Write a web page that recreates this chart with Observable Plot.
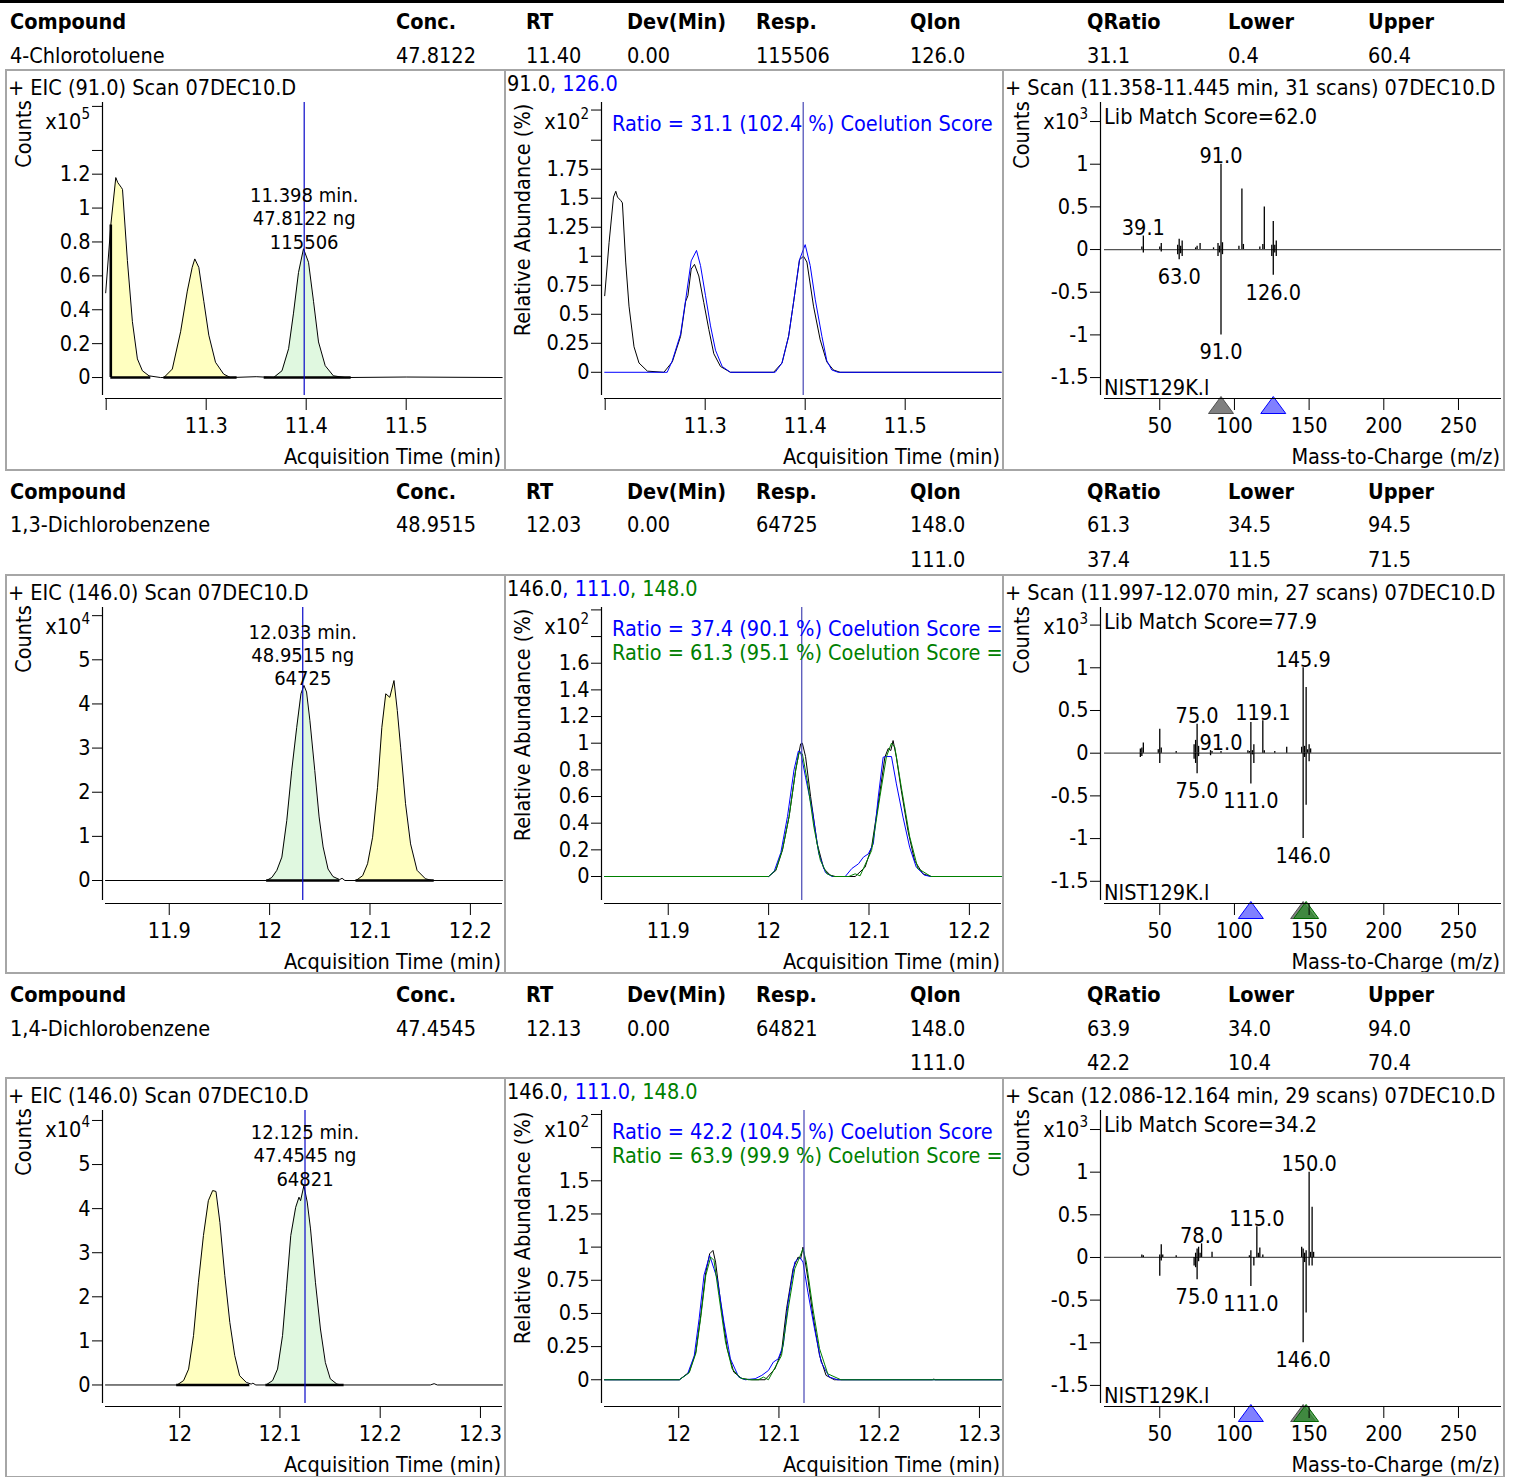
<!DOCTYPE html>
<html>
<head>
<meta charset="utf-8">
<script src="https://cdn.jsdelivr.net/npm/d3@7"></script>
<script src="https://cdn.jsdelivr.net/npm/@observablehq/plot@0.6"></script>
<style>
  html,body{margin:0;padding:0;background:#fff;}
  #page{position:relative;width:1514px;height:1477px;overflow:hidden;background:#fff;
    font-family:"DejaVu Sans Condensed","DejaVu Sans",sans-serif;font-stretch:condensed;font-size:21.5px;color:#000;}
  .t{position:absolute;white-space:nowrap;line-height:24px;height:24px;}
  .hb{font-weight:bold;}
  .panel{position:absolute;overflow:hidden;}
  .panel svg{position:absolute;left:0;top:0;}
  .rot{position:absolute;white-space:nowrap;line-height:24px;transform:translate(-50%,-50%) rotate(-90deg);}
  .ln{position:absolute;background:#a6a6a6;}
</style>
</head>
<body>
<div id="page"></div>
<script>
// ================= DATA =================
const headerCols = ["Compound","Conc.","RT","Dev(Min)","Resp.","QIon","QRatio","Lower","Upper"];
const compounds = ["4-Chlorotoluene","1,3-Dichlorobenzene","1,4-Dichlorobenzene"];
const conc = ["47.8122","48.9515","47.4545"];
const rtTable = ["11.40","12.03","12.13"];
const devMin = ["0.00","0.00","0.00"];
const resp = ["115506","64725","64821"];
const qIon = [["126.0"],["148.0","111.0"],["148.0","111.0"]];
const qRatio = [["31.1"],["61.3","37.4"],["63.9","42.2"]];
const qLower = [["0.4"],["34.5","11.5"],["34.0","10.4"]];
const qUpper = [["60.4"],["94.5","71.5"],["94.0","70.4"]];

const rtFull = ["11.398","12.033","12.125"];
const eicTitles = ["+ EIC (91.0) Scan 07DEC10.D","+ EIC (146.0) Scan 07DEC10.D","+ EIC (146.0) Scan 07DEC10.D"];
const eicExponent = ["5","4","4"];
const ionLists = [["91.0","126.0"],["146.0","111.0","148.0"],["146.0","111.0","148.0"]];
const ratioTexts = [
  ["Ratio = 31.1 (102.4 %) Coelution Score"],
  ["Ratio = 37.4 (90.1 %) Coelution Score =","Ratio = 61.3 (95.1 %) Coelution Score ="],
  ["Ratio = 42.2 (104.5 %) Coelution Score","Ratio = 63.9 (99.9 %) Coelution Score ="]
];
const specTitles = ["+ Scan (11.358-11.445 min, 31 scans) 07DEC10.D","+ Scan (11.997-12.070 min, 27 scans) 07DEC10.D","+ Scan (12.086-12.164 min, 29 scans) 07DEC10.D"];
const libScores = ["62.0","77.9","34.2"];
const libName = "NIST129K.l";

// x axis domains / ticks (minutes)
const timeDomains = [[11.1993, 11.5963],[11.8365, 12.232],[11.926, 12.322]];
const timeTicks = [[11.2, 11.3, 11.4, 11.5],[11.9, 12, 12.1, 12.2],[12, 12.1, 12.2, 12.3]];
const mzDomain = [13, 278.8];
const mzTicks = [50, 100, 150, 200, 250];

// y axis domains / ticks
const eicDomains = [[-0.106, 1.623],[-0.453, 6.185],[-0.42, 6.226]];
const eicTicks = [[0,0.2,0.4,0.6,0.8,1,1.2],[0,1,2,3,4,5],[0,1,2,3,4,5]];
const eicMinor = [[1.34,1.6],[6],[6]];
const relDomains = [[-0.2, 2.325],[-0.18, 2.018],[-0.179, 2.03]];
const relTicks = [[0,0.25,0.5,0.75,1,1.25,1.5,1.75],[0,0.2,0.4,0.6,0.8,1,1.2,1.4,1.6],[0,0.25,0.5,0.75,1,1.25,1.5]];
const relMinor = [[2.0,2.26],[1.8,2.0],[1.75,2.0]];
const specDomains = [[-1.71, 1.723],[-1.725, 1.706],[-1.712, 1.723]];
const specTicks = [-1.5,-1,-0.5,0,0.5,1];
const specMinor = [1.5];

// EIC traces [time, counts x10^n]
const eic1 = [[11.1995,0.50],[11.2046,0.90],[11.2096,1.18],[11.2116,1.15],[11.2153,1.12],[11.2163,1.11],[11.2212,0.69],[11.2262,0.33],[11.2312,0.11],[11.2362,0.04],[11.2428,0.01],[11.2544,0.00],
  [11.2577,0.00],[11.2661,0.05],[11.2744,0.27],[11.2811,0.51],[11.2860,0.65],[11.2886,0.70],[11.2926,0.65],[11.2976,0.45],[11.3026,0.25],[11.3093,0.09],[11.3175,0.02],[11.3242,0.00],
  [11.3500,0.005],[11.3674,0.00],[11.3758,0.04],[11.3824,0.17],[11.3873,0.38],[11.3923,0.62],[11.3973,0.76],[11.4023,0.68],[11.4073,0.45],[11.4123,0.21],[11.4190,0.07],[11.4272,0.01],[11.4389,0.00],[11.5000,0.003],[11.5960,0.00]];
const eic2 = [[11.8365,0.00],[11.9970,0.00],[12.0023,0.07],[12.0072,0.23],[12.0122,0.53],[12.0171,1.36],[12.0220,2.49],[12.0270,3.47],[12.0312,4.23],[12.0342,4.42],[12.0368,4.27],[12.0401,3.63],[12.0450,2.49],[12.0493,1.44],[12.0533,0.76],[12.0582,0.26],[12.0631,0.09],[12.0697,0.02],[12.0722,0.05],[12.0750,0.00],
  [12.0861,0.00],[12.0927,0.11],[12.0976,0.38],[12.1026,0.98],[12.1075,2.11],[12.1118,3.47],[12.1157,4.23],[12.1197,4.15],[12.1239,4.53],[12.1272,3.85],[12.1305,3.02],[12.1354,1.74],[12.1404,0.83],[12.1469,0.23],[12.1552,0.04],[12.1617,0.00],[12.2320,0.00]];
const eic3 = [[11.9260,0.00],[11.9974,0.00],[12.0039,0.10],[12.0089,0.36],[12.0138,1.12],[12.0187,2.33],[12.0237,3.39],[12.0286,4.18],[12.0329,4.41],[12.0362,4.39],[12.0401,3.69],[12.0450,2.48],[12.0500,1.42],[12.0549,0.67],[12.0598,0.21],[12.0664,0.06],[12.0713,0.02],[12.0730,0.04],[12.0760,0.00],
  [12.0861,0.00],[12.0927,0.10],[12.0976,0.36],[12.1026,1.12],[12.1065,2.18],[12.1108,3.39],[12.1157,4.03],[12.1190,4.26],[12.1206,4.18],[12.1239,4.52],[12.1272,4.15],[12.1305,3.54],[12.1354,2.33],[12.1404,1.27],[12.1453,0.51],[12.1502,0.14],[12.1568,0.02],[12.1617,0.00],[12.2500,0.00],[12.2538,0.03],[12.2570,0.00],[12.3220,0.00]];
// integration windows [start, end, kind]
const eicWindows = [
  [[11.2046, 11.2446, "other"],[11.2577, 11.3309, "other"],[11.358, 11.445, "target"]],
  [[11.997, 12.070, "target"],[12.086, 12.164, "other"]],
  [[11.997, 12.070, "other"],[12.086, 12.164, "target"]]
];

// relative abundance traces [time, x10^2 %]
const rel1Quant = [[11.1995,0.66],[11.2039,1.12],[11.2083,1.51],[11.2106,1.56],[11.2123,1.51],[11.2156,1.48],[11.2172,1.46],[11.2205,0.95],[11.2238,0.57],[11.2288,0.22],[11.2338,0.08],[11.2422,0.01],[11.2587,0.00],[11.2671,0.09],[11.2754,0.31],[11.2804,0.61],[11.2827,0.66],[11.2860,0.89],[11.2893,0.93],[11.2936,0.83],[11.2986,0.60],[11.3036,0.37],[11.3086,0.16],[11.3153,0.05],[11.3252,0.00],[11.3684,0.00],[11.3768,0.08],[11.3834,0.31],[11.3883,0.60],[11.3943,0.97],[11.3983,1.00],[11.4017,0.95],[11.4083,0.57],[11.4150,0.28],[11.4216,0.09],[11.4282,0.02],[11.4349,0.00],[11.5960,0.00]];
const rel1Q1 = [[11.1995,0.00],[11.2620,0.00],[11.2671,0.10],[11.2754,0.33],[11.2804,0.62],[11.2860,0.96],[11.2913,1.05],[11.2953,0.92],[11.3003,0.66],[11.3053,0.40],[11.3103,0.19],[11.3170,0.05],[11.3252,0.00],[11.3700,0.00],[11.3768,0.08],[11.3834,0.31],[11.3883,0.60],[11.3943,0.97],[11.4000,1.10],[11.4050,0.92],[11.4100,0.63],[11.4167,0.31],[11.4216,0.10],[11.4266,0.02],[11.4329,0.00],[11.5960,0.00]];
const rel2Quant = [[11.8365,0],[12.0000,0],[12.0072,0.045],[12.0138,0.20],[12.0204,0.45],[12.0270,0.80],[12.0319,0.995],[12.0336,1.0],[12.0368,0.90],[12.0418,0.60],[12.0484,0.245],[12.0549,0.06],[12.0615,0.01],[12.0664,0],[12.0862,0],[12.0961,0.07],[12.1026,0.22],[12.1092,0.545],[12.1158,0.895],[12.1191,0.96],[12.1217,0.945],[12.1240,1.02],[12.1273,0.895],[12.1322,0.645],[12.1388,0.345],[12.1454,0.12],[12.1536,0.02],[12.1618,0],[12.2320,0]];
const rel2Q1 = [[11.8365,0],[12.0000,0],[12.0056,0.04],[12.0122,0.18],[12.0188,0.45],[12.0253,0.80],[12.0296,0.94],[12.0319,0.935],[12.0368,0.745],[12.0434,0.50],[12.0500,0.17],[12.0566,0.03],[12.0632,0],[12.0763,0],[12.0829,0.06],[12.0895,0.095],[12.0944,0.145],[12.0993,0.17],[12.1043,0.245],[12.1092,0.595],[12.1141,0.895],[12.1174,0.90],[12.1224,0.90],[12.1273,0.695],[12.1339,0.445],[12.1405,0.22],[12.1471,0.07],[12.1553,0.01],[12.1618,0],[12.2320,0]];
const rel2Q2 = [[11.8365,0],[12.0000,0],[12.0072,0.05],[12.0138,0.20],[12.0204,0.45],[12.0270,0.80],[12.0303,0.93],[12.0336,0.92],[12.0385,0.72],[12.0451,0.37],[12.0516,0.12],[12.0582,0.02],[12.0648,0],[12.0800,0],[12.0829,0.01],[12.0862,0.02],[12.0911,0.005],[12.1026,0.195],[12.1109,0.60],[12.1174,0.90],[12.1224,1.0],[12.1257,0.97],[12.1322,0.67],[12.1405,0.30],[12.1487,0.06],[12.1618,0],[12.2320,0]];
const rel3Quant = [[11.926,0],[12.0007,0],[12.0105,0.058],[12.0171,0.21],[12.0220,0.485],[12.0270,0.81],[12.0309,0.95],[12.0342,0.975],[12.0368,0.887],[12.0418,0.585],[12.0484,0.234],[12.0549,0.058],[12.0632,0.008],[12.0730,0],[12.0862,0],[12.0961,0.083],[12.1026,0.21],[12.1076,0.535],[12.1141,0.837],[12.1191,0.925],[12.1217,0.912],[12.1240,1.0],[12.1289,0.761],[12.1339,0.485],[12.1405,0.183],[12.1470,0.033],[12.1553,0],[12.2530,0],[12.2545,0.005],[12.2560,0],[12.322,0]];
const rel3Q1 = [[11.926,0],[12.0007,0],[12.0089,0.045],[12.0155,0.18],[12.0204,0.46],[12.0253,0.79],[12.0309,0.937],[12.0352,0.837],[12.0385,0.76],[12.0451,0.435],[12.0516,0.158],[12.0599,0.02],[12.0664,0],[12.0763,0.008],[12.0829,0.033],[12.0895,0.07],[12.0944,0.133],[12.0993,0.158],[12.1043,0.26],[12.1092,0.585],[12.1158,0.887],[12.1207,0.925],[12.1240,0.887],[12.1289,0.66],[12.1355,0.384],[12.1421,0.133],[12.1503,0.02],[12.1586,0],[12.322,0]];
const rel3Q2 = [[11.926,0],[12.0007,0],[12.0105,0.053],[12.0171,0.20],[12.0220,0.47],[12.0270,0.786],[12.0319,0.925],[12.0352,0.90],[12.0401,0.636],[12.0467,0.284],[12.0533,0.083],[12.0615,0.013],[12.0697,0],[12.0796,0],[12.0845,0.02],[12.0895,0],[12.1026,0.183],[12.1092,0.535],[12.1158,0.837],[12.1207,0.925],[12.1240,0.987],[12.1273,0.887],[12.1339,0.535],[12.1405,0.234],[12.1487,0.045],[12.1618,0],[12.322,0]];

// mass spectra [m/z, counts x10^3] (sample up, library down)
const spec1Sample = [[38,0.03],[39,0.16],[50,0.03],[51,0.07],[62,0.05],[63,0.12],[64,0.04],[65,0.10],[74,0.02],[75,0.04],[77,0.07],[86,0.02],[89,0.07],[90,0.04],[91,1.0],[92,0.08],[103,0.04],[105,0.71],[106,0.06],[117,0.03],[119,0.06],[120,0.50],[125,0.05],[126,0.33],[127,0.05],[128,0.10]];
const spec1Library = [[39,-0.04],[51,-0.03],[62,-0.06],[63,-0.12],[64,-0.05],[65,-0.08],[89,-0.08],[90,-0.04],[91,-1.0],[92,-0.06],[125,-0.08],[126,-0.30],[127,-0.04],[128,-0.08]];
const spec2Sample = [[37,0.05],[38,0.06],[39,0.12],[49,0.04],[50,0.28],[51,0.06],[61,0.02],[73,0.10],[74,0.15],[75,0.34],[76,0.08],[84,0.03],[85,0.02],[91,0.02],[109,0.03],[110,0.02],[111,0.36],[112,0.03],[113,0.10],[119,0.38],[120,0.03],[127,0.02],[135,0.07],[145,0.07],[146,1.0],[147,0.08],[148,0.77],[149,0.04],[150,0.10],[151,0.05]];
const spec2Library = [[37,-0.05],[38,-0.04],[50,-0.12],[73,-0.07],[74,-0.12],[75,-0.24],[76,-0.04],[84,-0.03],[111,-0.36],[112,-0.02],[113,-0.12],[146,-1.0],[147,-0.05],[148,-0.61],[150,-0.10]];
const spec3Sample = [[38,0.03],[39,0.02],[50,0.03],[51,0.15],[52,0.03],[61,0.02],[74,0.05],[75,0.10],[76,0.12],[77,0.05],[78,0.16],[85,0.06],[110,0.02],[111,0.08],[115,0.36],[116,0.05],[117,0.11],[119,0.03],[145,0.12],[146,0.10],[147,0.05],[148,0.08],[150,1.0],[151,0.06],[152,0.59],[153,0.06]];
const spec3Library = [[50,-0.22],[51,-0.04],[73,-0.10],[74,-0.12],[75,-0.26],[76,-0.05],[111,-0.34],[113,-0.10],[146,-1.0],[147,-0.06],[148,-0.65],[150,-0.10],[152,-0.10]];
// peak labels [m/z, text]
const spec1SampleLabels = [[91,"91.0"],[39,"39.1"]];
const spec1LibraryLabels = [[63,"63.0"],[91,"91.0"],[126,"126.0"]];
const spec2SampleLabels = [[75,"75.0"],[91,"91.0"],[119,"119.1"],[146,"145.9"]];
const spec2LibraryLabels = [[75,"75.0"],[111,"111.0"],[146,"146.0"]];
const spec3SampleLabels = [[78,"78.0"],[115,"115.0"],[150,"150.0"]];
const spec3LibraryLabels = [[75,"75.0"],[111,"111.0"],[146,"146.0"]];

// ================= LAYOUT / STYLE =================
const FONT = '"DejaVu Sans Condensed","DejaVu Sans",sans-serif';
const BLUE = "#0000ff", GREEN = "#008000";
const FILL = {target: "#e0f8e0", other: "#ffffc0"};
const headerTop = [0, 470, 973];
const valueOffset = [56, 55, 56];
const panelTop = [70, 575, 1078];
const panelLeft = [6, 505, 1003];
const panelWidth = [499, 498, 501];
const colX = [10, 396, 526, 627, 756, 910, 1087, 1228, 1368];

const eicTraces = [eic1, eic2, eic3];
const relTraces = [[rel1Quant, rel1Q1], [rel2Quant, rel2Q1, rel2Q2], [rel3Quant, rel3Q1, rel3Q2]];
const specSample = [spec1Sample, spec2Sample, spec3Sample];
const specLibrary = [spec1Library, spec2Library, spec3Library];
const specSampleLabels = [spec1SampleLabels, spec2SampleLabels, spec3SampleLabels];
const specLibraryLabels = [spec1LibraryLabels, spec2LibraryLabels, spec3LibraryLabels];
const ionColors = ["#000000", BLUE, GREEN];

const page = document.getElementById("page");
function el(parent, cls, css, text) {
  const d = document.createElement("div");
  d.className = cls; d.style.cssText = css;
  if (text != null) d.textContent = text;
  parent.appendChild(d); return d;
}
function txt(parent, text, left, cy, extra = "") { return el(parent, "t", `left:${left}px;top:${cy - 12}px;${extra}`, text); }
function rot(parent, text, cx, cy) { return el(parent, "rot", `left:${cx}px;top:${cy}px;`, text); }
function expLabel(parent, n, right, cy) {
  const d = txt(parent, "x10", right, cy, "transform:translateX(-100%);");
  const s = document.createElement("span");
  s.style.cssText = "font-size:15px;position:relative;top:-10px;";
  s.textContent = n; d.appendChild(s);
}
const fmt = d => String(d);
const blank = () => "";

function basePlot({width, xDomain, yDomain, xTicks, xFmt = fmt, yTicks, yMinor, marginLeft, gap, marks}) {
  return Plot.plot({
    width, height: 400,
    marginTop: 32, marginBottom: 75, marginLeft, marginRight: width - marginLeft - 397,
    x: {domain: xDomain}, y: {domain: yDomain},
    style: {fontFamily: FONT, fontSize: "21.5px", fontStretch: "condensed", background: "none", overflow: "visible"},
    marks: [
      ...marks,
      Plot.ruleX([xDomain[0]], {dx: -gap, stroke: "black", strokeWidth: 1.2}),
      Plot.ruleY([yDomain[0]], {dy: 3, stroke: "black", strokeWidth: 1.2}),
      Plot.axisY(yTicks, {tickSize: 10, tickPadding: 2, dx: -gap, tickFormat: fmt, label: null}),
      Plot.axisY(yMinor, {tickSize: 10, tickPadding: 2, dx: -gap, tickFormat: blank, label: null}),
      Plot.axisX(xTicks, {tickSize: 12, tickPadding: 7, dy: 3, tickFormat: xFmt, label: null})
    ]
  });
}

// top rule
el(page, "", "position:absolute;left:0;top:0;width:1504px;height:3px;background:#000;");

for (let r = 0; r < 3; r++) {
  // ---------- header table ----------
  const ht = headerTop[r];
  headerCols.forEach((h, i) => { const d = txt(page, h, colX[i], ht + 22); d.classList.add("hb"); });
  const vals = [compounds[r], conc[r], rtTable[r], devMin[r], resp[r], qIon[r][0], qRatio[r][0], qLower[r][0], qUpper[r][0]];
  vals.forEach((v, i) => txt(page, v, colX[i], ht + valueOffset[r]));
  for (let k = 1; k < qIon[r].length; k++) {
    [qIon[r][k], qRatio[r][k], qLower[r][k], qUpper[r][k]].forEach((v, i) => txt(page, v, colX[5 + i], ht + 90));
  }

  const top = panelTop[r];
  const rt = +rtFull[r];
  const xDom = timeDomains[r];
  const xFmt = d => (d < xDom[0] + 0.005 ? "" : String(d));

  // ---------- panel 1 : EIC ----------
  {
    const p = el(page, "panel", `left:${panelLeft[0]}px;top:${top}px;width:${panelWidth[0]}px;height:400px;`);
    const trace = eicTraces[r];
    const wins = eicWindows[r].map(([a, b, kind]) => ({a, b, kind}));
    const target = wins.find(w => w.kind === "target");
    const peak = d3.max(trace.filter(d => d[0] >= target.a && d[0] <= target.b), d => d[1]);
    const marks = [
      ...wins.map(w => Plot.areaY(trace, {x: d => d[0], y: d => d[1], filter: d => d[0] >= w.a && d[0] <= w.b, fill: FILL[w.kind]})),
      Plot.ruleY(wins, {x1: "a", x2: "b", y: () => 0, stroke: "black", strokeWidth: 2.6}),
      Plot.ruleX(trace.filter(d => d[0] === wins[0].a && d[1] > 0), {x: d => d[0], y1: () => 0, y2: d => d[1], stroke: "black", strokeWidth: 2.6}),
      Plot.line(trace, {x: d => d[0], y: d => d[1], stroke: "black", strokeWidth: 1}),
      Plot.ruleX([rt], {stroke: "#0808c8", strokeWidth: 1.2}),
      Plot.text([{x: rt, y: peak, label: `${rtFull[r]} min.\n${conc[r]} ng\n${resp[r]}`}],
        {x: "x", y: "y", text: "label", lineAnchor: "middle", lineHeight: 1.17, fontSize: 20, dy: -31, fill: "black"})
    ];
    p.appendChild(basePlot({width: panelWidth[0], xDomain: xDom, yDomain: eicDomains[r], xTicks: timeTicks[r], xFmt,
      yTicks: eicTicks[r], yMinor: eicMinor[r], marginLeft: 99, gap: 3, marks}));
    txt(p, eicTitles[r], 2, 18);
    rot(p, "Counts", 18, 64);
    expLabel(p, eicExponent[r], 84, 52);
    txt(p, "Acquisition Time (min)", 495, 387, "transform:translateX(-100%);");
  }

  // ---------- panel 2 : qualifier overlay ----------
  {
    const p = el(page, "panel", `left:${panelLeft[1]}px;top:${top}px;width:${panelWidth[1]}px;height:400px;`);
    const traces = relTraces[r];
    const marks = [
      ...traces.map((tr, i) => Plot.line(tr, {x: d => d[0], y: d => d[1], stroke: ionColors[i], strokeWidth: 1})),
      Plot.ruleX([rt], {stroke: "#4646b4", strokeWidth: 1.2})
    ];
    p.appendChild(basePlot({width: panelWidth[1], xDomain: xDom, yDomain: relDomains[r], xTicks: timeTicks[r], xFmt,
      yTicks: relTicks[r], yMinor: relMinor[r], marginLeft: 99, gap: 3, marks}));
    const t = txt(p, "", 2, 14);
    ionLists[r].forEach((ion, i) => {
      const s = document.createElement("span");
      s.style.color = ionColors[i];
      s.textContent = (i ? ", " : "") + ion;
      t.appendChild(s);
    });
    ratioTexts[r].forEach((line, i) => txt(p, line, 107, 54 + 24 * i, `color:${ionColors[i + 1]};`));
    rot(p, "Relative Abundance (%)", 18, 150);
    expLabel(p, "2", 84, 52);
    txt(p, "Acquisition Time (min)", 495, 387, "transform:translateX(-100%);");
  }

  // ---------- panel 3 : spectrum ----------
  {
    const p = el(page, "panel", `left:${panelLeft[2]}px;top:${top}px;width:${panelWidth[2]}px;height:400px;`);
    const S = specSample[r], L = specLibrary[r];
    const lookup = (arr, mz) => arr.find(d => d[0] === mz);
    const topLabels = specSampleLabels[r].map(([mz, lab]) => ({mz, y: lookup(S, mz)[1], lab}));
    const botLabels = specLibraryLabels[r].map(([mz, lab]) => ({mz, y: lookup(L, mz)[1], lab}));
    const ions = ionLists[r].map((s, i) => ({mz: +s, i}));
    const tri = {draw(ctx) { ctx.moveTo(0, 1); ctx.lineTo(12.5, 18); ctx.lineTo(-12.5, 18); ctx.closePath(); }};
    const triStyle = [
      {fill: "#808080", stroke: "#505050", fillOpacity: 1},
      {fill: "#8080ff", stroke: "#0000ff", fillOpacity: 1},
      {fill: "#2f8a2f", stroke: "#006400", fillOpacity: 0.8}
    ];
    const marks = [
      Plot.ruleY([0], {stroke: "#555", strokeWidth: 1.3}),
      Plot.ruleX(S, {x: d => d[0], y1: () => 0, y2: d => d[1], stroke: "black", strokeWidth: 1.3}),
      Plot.ruleX(L, {x: d => d[0], y1: () => 0, y2: d => d[1], stroke: "black", strokeWidth: 1.3}),
      Plot.text(topLabels, {x: "mz", y: "y", text: "lab", dy: -8}),
      Plot.text(botLabels, {x: "mz", y: "y", text: "lab", dy: 17.5}),
      ...ions.map(o => Plot.dot([o], {x: "mz", frameAnchor: "bottom", symbol: tri, r: 5, ...triStyle[o.i], strokeWidth: 1}))
    ];
    p.appendChild(basePlot({width: panelWidth[2], xDomain: mzDomain, yDomain: specDomains[r], xTicks: mzTicks,
      yTicks: specTicks, yMinor: specMinor, marginLeft: 101, gap: 4, marks}));
    txt(p, specTitles[r], 2, 18);
    rot(p, "Counts", 19, 65);
    expLabel(p, "3", 85, 52);
    txt(p, `Lib Match Score=${libScores[r]}`, 101, 47);
    txt(p, libName, 101, 318);
    txt(p, "Mass-to-Charge (m/z)", 497, 387, "transform:translateX(-100%);");
  }
}

// panel borders
const rowLines = [[69, 469], [574, 972], [1077, 1476]];
rowLines.forEach(([a, b]) => {
  el(page, "ln", `left:5px;top:${a}px;width:1500px;height:2px;`);
  el(page, "ln", `left:5px;top:${b}px;width:1500px;height:2px;`);
  [5, 504, 1002, 1503].forEach(x => el(page, "ln", `left:${x}px;top:${a}px;width:2px;height:${b - a + 2}px;`));
});
</script>
</body>
</html>
